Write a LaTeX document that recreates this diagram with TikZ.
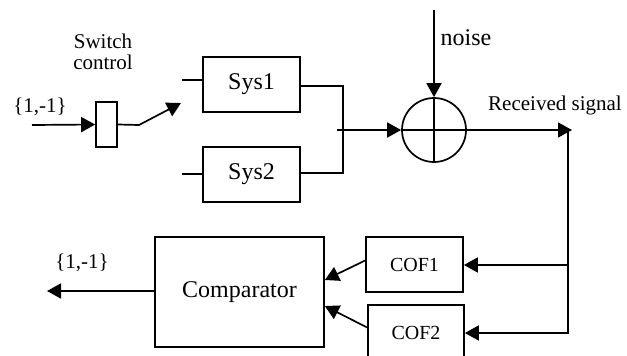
\documentclass[tikz,border=0pt]{standalone}
\usepackage{fontspec}
\setmainfont{Liberation Serif}
\usetikzlibrary{arrows.meta,calc}
\begin{document}
\begin{tikzpicture}[x=1pt,y=-1pt,
  line width=1.7pt,
  tip/.style={-{Triangle[length=14pt,width=15pt]}},
  blk/.style={draw,rectangle,inner sep=0pt},
  fs/.style={font=\fontsize{#1}{#1}\selectfont}]
\useasboundingbox (0,0) rectangle (627,356);
\clip (0,0) rectangle (627,356);
% blocks
\node[blk,minimum width=21pt,minimum height=45pt] (sw) at (106.5,124.5) {};
\node[blk,minimum width=97pt,minimum height=55pt,fs=24] (sys1) at (251.5,84.5) {Sys1};
\node[blk,minimum width=97pt,minimum height=55pt,fs=24] (sys2) at (251.5,174.5) {Sys2};
\node[draw,circle,minimum size=64pt,inner sep=0pt] (sum) at (434,130) {};
\node[blk,minimum width=169pt,minimum height=110pt,fs=24] (comp) at (239.5,292) {Comparator};
\node[blk,minimum width=97pt,minimum height=55pt,fs=20] (cof1) at (414.5,264.5) {COF1};
\node[blk,minimum width=96pt,minimum height=55pt,fs=20] (cof2) at (416,332.5) {COF2};
% labels
\node[fs=21,align=center] (swl) at (103,52) {Switch\\control};
\node[fs=21] (inl) at (40,107) {\{1,-1\}};
\node[fs=21] (outl) at (82,263) {\{1,-1\}};
\node[fs=24] (nzl) at (466,38) {noise};
\node[fs=21] (rxl) at (555,105) {Received signal};
% coordinates
\coordinate (in) at (32,125);
\coordinate (bend) at (139,125);
\coordinate (swtip) at (181,103);
\coordinate (s1in) at (182,80);
\coordinate (s2in) at (182,174);
\coordinate (j1) at (343,86);
\coordinate (j2) at (343,173);
\coordinate (jm) at (337,130);
\coordinate (nz) at (434,10);
\coordinate (rx) at (572,130);
\coordinate (vt) at (568,130);
\coordinate (vb) at (568,334);
\coordinate (out) at (47,291);
% connectors
\draw[tip] (in) -- (sw.west);
\draw[tip] (sw.east) -- (bend) -- (swtip);
\draw (s1in) -- (s1in -| sys1.west);
\draw (s2in) -- (s2in -| sys2.west);
\draw (j1 -| sys1.east) -- (j1) -- (j2) -- (j2 -| sys2.east);
\draw[tip] (jm) -- (sum.west);
\draw[tip] (nz) -- (sum.north);
\draw (sum.north) -- (sum.south);
\draw (sum.west) -- (sum.east);
\draw[tip] (sum.east) -- (rx);
\draw (vt) -- (vb);
\draw[tip] (568,265) -- (cof1.east |- 0,265);
\draw[tip] (568,333) -- (cof2.east |- 0,333);
\draw[tip] ($(cof1.west)+(0,-4)$) -- ($(comp.east)+(0,-12)$);
\draw[tip] ($(cof2.west)+(0,-5)$) -- ($(comp.east)+(0,14)$);
\draw[tip] (comp.west |- out) -- (out);
\end{tikzpicture}
\end{document}
